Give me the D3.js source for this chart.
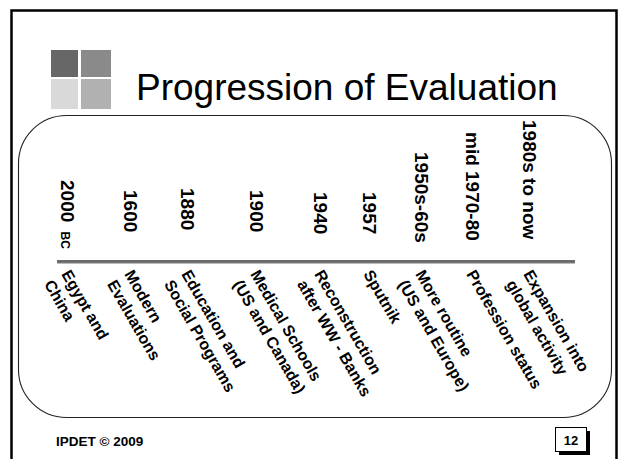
<!DOCTYPE html>
<html>
<head>
<meta charset="utf-8">
<script src="https://cdn.jsdelivr.net/npm/d3@7"></script>
<style>
  html, body { margin: 0; padding: 0; background: #fff; }
  svg { display: block; }
  text { font-family: "Liberation Sans", Arial, sans-serif; }
</style>
</head>
<body>
<svg id="chart" width="620" height="459"></svg>
<script>
// ---- data ----
const title = "Progression of Evaluation";
const periods = ["2000", "1600", "1880", "1900", "1940", "1957", "1950s-60s", "mid 1970-80", "1980s to now"];
const periodSuffix = ["BC", "", "", "", "", "", "", "", ""];
const events = [
  ["Egypt and", "China"],
  ["Modern", "Evaluations"],
  ["Education and", "Social Programs"],
  ["Medical Schools", "(US and Canada)"],
  ["Reconstruction", "after WW - Banks"],
  ["Sputnik"],
  ["More routine", "(US and Europe)"],
  ["Profession status"],
  ["Expansion into", "global activity"]
];
const footer = "IPDET \u00A9 2009";
const pageNumber = "12";

// ---- layout (kept apart from data) ----
const columnX = [61, 124, 181, 250, 314, 363, 415, 466, 523];
const periodTop = [180, 190, 188, 190, 192, 192, 152, 132, 120];
const squareShades = ["#676767", "#8a8a8a", "#d9d9d9", "#b1b1b1"];

const svg = d3.select("#chart");
const x = d3.scaleOrdinal().domain(periods).range(columnX);
const yTop = d3.scaleOrdinal().domain(periods).range(periodTop);

// outer slide frame
svg.append("rect")
  .attr("x", 11.5).attr("y", 10.5).attr("width", 605).attr("height", 470)
  .attr("fill", "none").attr("stroke", "#000").attr("stroke-width", 2.5);

// decorative squares
const sq = [
  {x: 51, y: 50, w: 27, h: 27},
  {x: 81, y: 50, w: 30, h: 27},
  {x: 51, y: 79, w: 27, h: 30},
  {x: 81, y: 79, w: 30, h: 30}
];
svg.selectAll("rect.sq").data(sq).join("rect")
  .attr("class", "sq")
  .attr("x", d => d.x).attr("y", d => d.y)
  .attr("width", d => d.w).attr("height", d => d.h)
  .attr("fill", (d, i) => squareShades[i]);

// title
svg.append("text")
  .attr("x", 136).attr("y", 100)
  .attr("font-size", 37).attr("fill", "#000")
  .text(title);

// rounded panel
svg.append("rect")
  .attr("x", 18.5).attr("y", 115.5).attr("width", 593).attr("height", 302)
  .attr("rx", 48).attr("ry", 48)
  .attr("fill", "none").attr("stroke", "#222").attr("stroke-width", 1.1);

// timeline axis line
svg.append("line")
  .attr("x1", 57).attr("x2", 575).attr("y1", 262).attr("y2", 262)
  .attr("stroke", "#777").attr("stroke-width", 3);
svg.append("line")
  .attr("x1", 57).attr("x2", 575).attr("y1", 260.8).attr("y2", 260.8)
  .attr("stroke", "#333").attr("stroke-width", 0.8);

// period labels (rotated 90deg)
const pl = svg.selectAll("text.period").data(periods).join("text")
  .attr("class", "period")
  .attr("transform", d => `translate(${x(d)},${yTop(d)}) rotate(90)`)
  .attr("font-size", 19).attr("font-weight", "bold").attr("fill", "#000");
pl.append("tspan").text(d => d);
pl.append("tspan")
  .attr("font-size", 12)
  .attr("dx", (d, i) => periodSuffix[i] ? 6 : 0)
  .text((d, i) => periodSuffix[i] ? "\u00A0" + periodSuffix[i] : "");

// event labels (rotated 60deg)
const el = svg.selectAll("text.event").data(events).join("text")
  .attr("class", "event")
  .attr("transform", (d, i) => `translate(${x(periods[i])},274) rotate(60)`)
  .attr("font-size", 16).attr("font-weight", "bold").attr("fill", "#000");
el.selectAll("tspan").data(d => d).join("tspan")
  .attr("x", 0)
  .attr("dy", (d, j) => j === 0 ? 0 : "1.25em")
  .text(d => d);

// footer
svg.append("text")
  .attr("x", 56).attr("y", 446)
  .attr("font-size", 13.5).attr("font-weight", "bold")
  .text(footer);

// page number box with shadow
svg.append("rect").attr("x", 559).attr("y", 431).attr("width", 31).attr("height", 24).attr("fill", "#000");
svg.append("rect").attr("x", 555.5).attr("y", 427.5).attr("width", 31).attr("height", 24)
  .attr("fill", "#fff").attr("stroke", "#000").attr("stroke-width", 1);
svg.append("text")
  .attr("x", 571).attr("y", 444.5).attr("text-anchor", "middle")
  .attr("font-size", 13).attr("font-weight", "bold")
  .text(pageNumber);
</script>
</body>
</html>
